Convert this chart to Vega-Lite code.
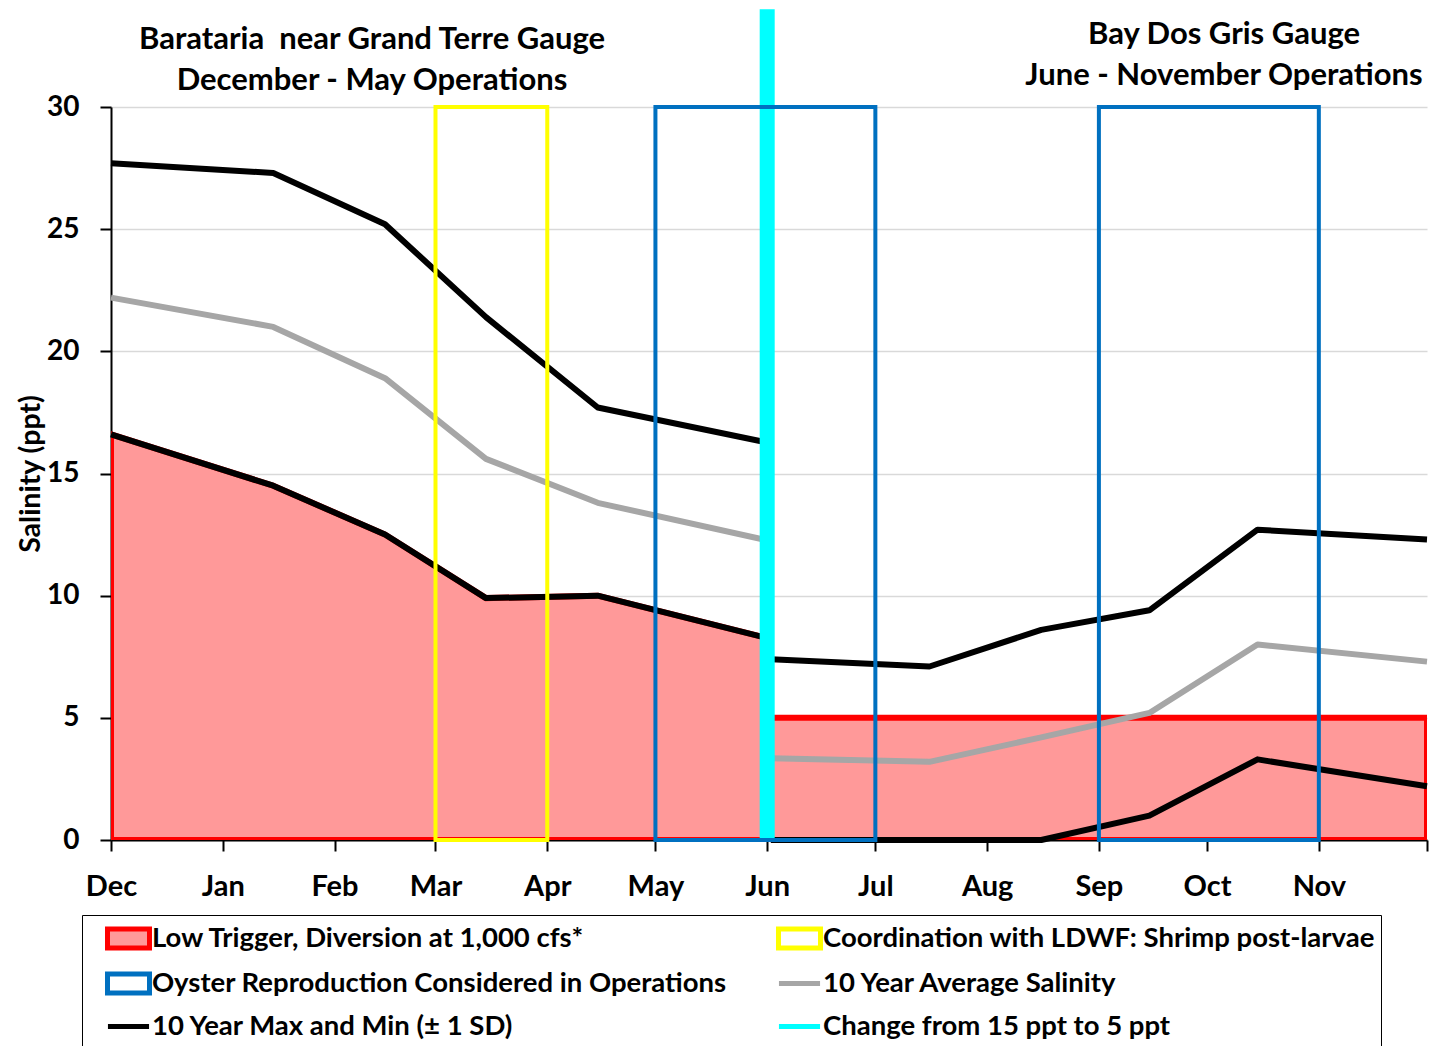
{
  "$schema": "https://vega.github.io/schema/vega-lite/v6.json",
  "width": 1316,
  "height": 733,
  "autosize": {"type": "none"},
  "padding": {"left": 111, "top": 107, "right": 22, "bottom": 206},
  "background": "white",
  "config": {
    "view": {"stroke": null},
    "font": "Lato",
    "text": {"font": "Lato"},
    "legend": {
      "orient": "none",
      "legendX": -29,
      "legendY": 808,
      "columns": 2,
      "direction": "horizontal",
      "padding": 6,
      "rowPadding": 6,
      "columnPadding": 32,
      "strokeColor": "#000000",
      "fillColor": "#FFFFFF",
      "symbolSize": 900,
      "symbolStrokeWidth": 5,
      "symbolOpacity": 1,
      "symbolOffset": 23,
      "labelOffset": 6,
      "labelFont": "Lato", "labelFontWeight": "bold", "labelFontSize": 27.5, "labelColor": "black",
      "labelLimit": 1000
    }
  },
  "datasets": {
    "salinity": [
      {"gauge": "Barataria", "stat": "max", "day": 0, "salinity": 27.7},
      {"gauge": "Barataria", "stat": "max", "day": 45, "salinity": 27.3},
      {"gauge": "Barataria", "stat": "max", "day": 76, "salinity": 25.2},
      {"gauge": "Barataria", "stat": "max", "day": 104, "salinity": 21.4},
      {"gauge": "Barataria", "stat": "max", "day": 135, "salinity": 17.7},
      {"gauge": "Barataria", "stat": "max", "day": 181, "salinity": 16.3},
      {"gauge": "Barataria", "stat": "avg", "day": 0, "salinity": 22.2},
      {"gauge": "Barataria", "stat": "avg", "day": 45, "salinity": 21.0},
      {"gauge": "Barataria", "stat": "avg", "day": 76, "salinity": 18.9},
      {"gauge": "Barataria", "stat": "avg", "day": 104, "salinity": 15.6},
      {"gauge": "Barataria", "stat": "avg", "day": 135, "salinity": 13.8},
      {"gauge": "Barataria", "stat": "avg", "day": 181, "salinity": 12.3},
      {"gauge": "Barataria", "stat": "min", "day": 0, "salinity": 16.6},
      {"gauge": "Barataria", "stat": "min", "day": 45, "salinity": 14.5},
      {"gauge": "Barataria", "stat": "min", "day": 76, "salinity": 12.5},
      {"gauge": "Barataria", "stat": "min", "day": 104, "salinity": 9.9},
      {"gauge": "Barataria", "stat": "min", "day": 135, "salinity": 10.0},
      {"gauge": "Barataria", "stat": "min", "day": 181, "salinity": 8.3},
      {"gauge": "Bay Dos Gris", "stat": "max", "day": 183, "salinity": 7.4},
      {"gauge": "Bay Dos Gris", "stat": "max", "day": 227, "salinity": 7.1},
      {"gauge": "Bay Dos Gris", "stat": "max", "day": 258, "salinity": 8.6},
      {"gauge": "Bay Dos Gris", "stat": "max", "day": 288, "salinity": 9.4},
      {"gauge": "Bay Dos Gris", "stat": "max", "day": 318, "salinity": 12.7},
      {"gauge": "Bay Dos Gris", "stat": "max", "day": 365, "salinity": 12.3},
      {"gauge": "Bay Dos Gris", "stat": "avg", "day": 183, "salinity": 3.35},
      {"gauge": "Bay Dos Gris", "stat": "avg", "day": 227, "salinity": 3.2},
      {"gauge": "Bay Dos Gris", "stat": "avg", "day": 258, "salinity": 4.2},
      {"gauge": "Bay Dos Gris", "stat": "avg", "day": 288, "salinity": 5.2},
      {"gauge": "Bay Dos Gris", "stat": "avg", "day": 318, "salinity": 8.0},
      {"gauge": "Bay Dos Gris", "stat": "avg", "day": 365, "salinity": 7.3},
      {"gauge": "Bay Dos Gris", "stat": "min", "day": 183, "salinity": 0},
      {"gauge": "Bay Dos Gris", "stat": "min", "day": 227, "salinity": 0},
      {"gauge": "Bay Dos Gris", "stat": "min", "day": 258, "salinity": 0},
      {"gauge": "Bay Dos Gris", "stat": "min", "day": 288, "salinity": 1.0},
      {"gauge": "Bay Dos Gris", "stat": "min", "day": 318, "salinity": 3.3},
      {"gauge": "Bay Dos Gris", "stat": "min", "day": 365, "salinity": 2.2}
    ],
    "trigger": [
      {"day": 0, "salinity": 16.6},
      {"day": 45, "salinity": 14.5},
      {"day": 76, "salinity": 12.5},
      {"day": 104, "salinity": 9.9},
      {"day": 135, "salinity": 10.0},
      {"day": 181, "salinity": 8.3},
      {"day": 182, "salinity": 5},
      {"day": 365, "salinity": 5}
    ],
    "windows": [
      {"start": 90, "end": 121, "label": "Coordination with LDWF: Shrimp post-larvae"},
      {"start": 151, "end": 212, "label": "Oyster Reproduction Considered in Operations"},
      {"start": 274, "end": 335, "label": "Oyster Reproduction Considered in Operations"}
    ],
    "events": [
      {"day": 182, "label": "Change from 15 ppt to 5 ppt"}
    ]
  },
  "layer": [
    {
      "data": {"name": "trigger"},
      "mark": {"type": "area", "fillOpacity": 1, "strokeJoin": "miter", "clip": true},
      "encoding": {
        "x": {
          "field": "day", "type": "quantitative",
          "scale": {"domain": [0, 365], "nice": false, "zero": false},
          "axis": {
            "values": [0, 31, 62, 90, 121, 151, 182, 212, 243, 274, 304, 335, 365],
            "labelExpr": "['Dec','Jan','Feb','Mar','Apr','May','Jun','Jul','Aug','Sep','Oct','Nov',''][indexof([0,31,62,90,121,151,182,212,243,274,304,335,365], datum.value)]",
            "title": null,
            "grid": false,
            "domainColor": "black", "domainWidth": 2,
            "tickColor": "black", "tickWidth": 2, "tickSize": 11,
            "labelFont": "Lato", "labelFontWeight": "bold", "labelFontSize": 29, "labelColor": "black",
            "labelPadding": 21, "labelFlush": false, "labelOverlap": false
          }
        },
        "y": {
          "field": "salinity", "type": "quantitative",
          "scale": {"domain": [0, 30], "nice": false},
          "axis": {
            "values": [0, 5, 10, 15, 20, 25, 30],
            "title": "Salinity (ppt)",
            "titleFont": "Lato", "titleFontWeight": "bold", "titleFontSize": 28.5, "titleColor": "black",
            "titlePadding": 1,
            "grid": true, "gridColor": "#D9D9D9", "gridWidth": 1.5,
            "domainColor": "black", "domainWidth": 2,
            "tickColor": "black", "tickWidth": 2, "tickSize": 11,
            "labelFont": "Lato", "labelFontWeight": "bold", "labelFontSize": 28, "labelColor": "black",
            "labelPadding": 21
          }
        },
        "stroke": {
          "datum": "Low Trigger, Diversion at 1,000 cfs*",
          "type": "nominal",
          "title": null,
          "scale": {
            "domain": [
              "Low Trigger, Diversion at 1,000 cfs*",
              "Coordination with LDWF: Shrimp post-larvae",
              "Oyster Reproduction Considered in Operations",
              "10 Year Average Salinity",
              "10 Year Max and Min (± 1 SD)",
              "Change from 15 ppt to 5 ppt"
            ],
            "range": ["#FF0000", "#FFFF00", "#0070C0", "#A6A6A6", "#000000", "#00FFFF"]
          }
        },
        "fill": {
          "datum": "Low Trigger, Diversion at 1,000 cfs*",
          "type": "nominal",
          "title": null,
          "scale": {
            "domain": [
              "Low Trigger, Diversion at 1,000 cfs*",
              "Coordination with LDWF: Shrimp post-larvae",
              "Oyster Reproduction Considered in Operations",
              "10 Year Average Salinity",
              "10 Year Max and Min (± 1 SD)",
              "Change from 15 ppt to 5 ppt"
            ],
            "range": ["#FF9999", "transparent", "transparent", "transparent", "transparent", "transparent"]
          }
        },
        "strokeWidth": {"value": 6}
      }
    },
    {
      "data": {"name": "salinity"},
      "transform": [{"filter": "datum.stat == 'avg'"}],
      "mark": {"type": "line", "strokeJoin": "round", "strokeCap": "butt"},
      "encoding": {
        "x": {"field": "day", "type": "quantitative"},
        "y": {"field": "salinity", "type": "quantitative"},
        "detail": {"field": "gauge"},
        "stroke": {"datum": "10 Year Average Salinity", "type": "nominal", "title": null},
        "strokeWidth": {"value": 6}
      }
    },
    {
      "data": {"name": "salinity"},
      "transform": [{"filter": "datum.stat != 'avg'"}],
      "mark": {"type": "line", "strokeJoin": "round", "strokeCap": "butt"},
      "encoding": {
        "x": {"field": "day", "type": "quantitative"},
        "y": {"field": "salinity", "type": "quantitative"},
        "detail": [{"field": "gauge"}, {"field": "stat"}],
        "stroke": {"datum": "10 Year Max and Min (± 1 SD)", "type": "nominal", "title": null},
        "strokeWidth": {"value": 6}
      }
    },
    {
      "data": {"name": "events"},
      "mark": {"type": "rule"},
      "encoding": {
        "x": {"field": "day", "type": "quantitative"},
        "y": {"datum": 0},
        "y2": {"datum": 34},
        "stroke": {"field": "label", "type": "nominal", "title": null},
        "strokeWidth": {"value": 15}
      }
    },
    {
      "data": {"name": "windows"},
      "mark": {"type": "rect"},
      "encoding": {
        "x": {"field": "start", "type": "quantitative"},
        "x2": {"field": "end"},
        "y": {"datum": 0},
        "y2": {"datum": 30},
        "stroke": {"field": "label", "type": "nominal", "title": null},
        "fill": {"field": "label", "type": "nominal", "title": null},
        "strokeWidth": {"value": 4}
      }
    },
    {
      "data": {"name": "events"},
      "mark": {"type": "point", "opacity": 0},
      "encoding": {
        "x": {"field": "day", "type": "quantitative"},
        "y": {"datum": 0},
        "shape": {
          "field": "label", "type": "nominal", "title": null,
          "scale": {
            "domain": [
              "Low Trigger, Diversion at 1,000 cfs*",
              "Coordination with LDWF: Shrimp post-larvae",
              "Oyster Reproduction Considered in Operations",
              "10 Year Average Salinity",
              "10 Year Max and Min (± 1 SD)",
              "Change from 15 ppt to 5 ppt"
            ],
            "range": [
              "M-1.4,-0.63H1.4V0.63H-1.4Z",
              "M-1.4,-0.63H1.4V0.63H-1.4Z",
              "M-1.4,-0.63H1.4V0.63H-1.4Z",
              "M-1.37,0H1.37",
              "M-1.37,0H1.37",
              "M-1.37,0H1.37"
            ]
          }
        }
      }
    },
    {
      "data": {"values": [{}]},
      "mark": {"type": "text", "text": ["Barataria\u00a0 near Grand Terre Gauge", "December - May Operations"], "font": "Lato", "fontWeight": "bold", "fontSize": 31, "align": "center", "baseline": "alphabetic", "lineHeight": 41, "color": "black"},
      "encoding": {
        "x": {"datum": 72.4},
        "y": {"datum": 32.37}
      }
    },
    {
      "data": {"values": [{}]},
      "mark": {"type": "text", "text": ["Bay Dos Gris Gauge", "June - November Operations"], "font": "Lato", "fontWeight": "bold", "fontSize": 31, "align": "center", "baseline": "alphabetic", "lineHeight": 41, "color": "black"},
      "encoding": {
        "x": {"datum": 308.7},
        "y": {"datum": 32.58}
      }
    }
  ]
}
